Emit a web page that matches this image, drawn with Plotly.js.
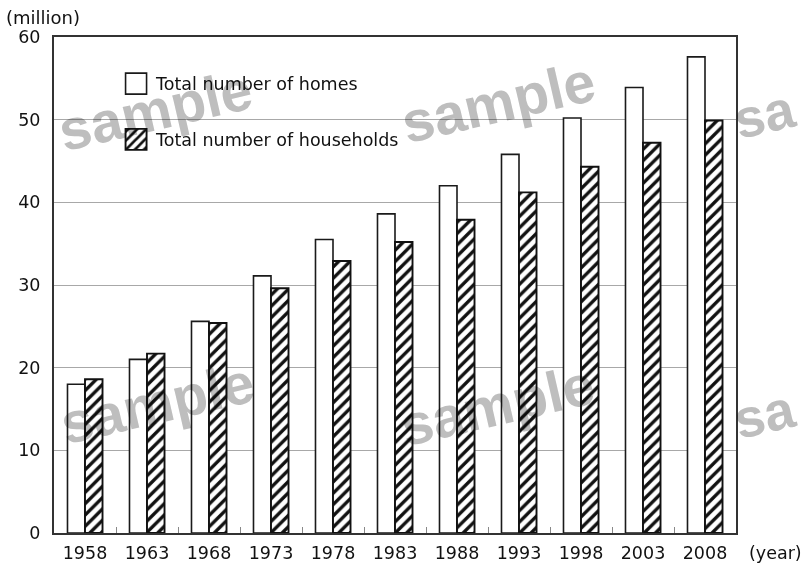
<!DOCTYPE html>
<html>
<head>
<meta charset="utf-8">
<script src="https://cdn.plot.ly/plotly-3.0.1.min.js"></script>
<style>html,body{margin:0;padding:0;background:#fff;}#chart{width:801px;height:567px;}</style>
</head>
<body>
<div id="chart"></div>
<script>
const years = ["1958","1963","1968","1973","1978","1983","1988","1993","1998","2003","2008"];
const homes = [18.0, 21.0, 25.6, 31.1, 35.5, 38.6, 42.0, 45.8, 50.2, 53.9, 57.6];
const households = [18.6, 21.7, 25.4, 29.6, 32.9, 35.2, 37.9, 41.2, 44.3, 47.2, 49.9];
const seriesNames = ["Total number of homes", "Total number of households"];
const yTicks = [0, 10, 20, 30, 40, 50, 60];

const FONT = "DejaVu Sans, Liberation Sans, Arial, sans-serif";

const traces = [
  {
    type: "bar", x: years, y: homes, name: seriesNames[0], legendgroup: "a",
    marker: {color: "#ffffff", line: {color: "#1a1a1a", width: 1.6}}
  },
  {
    type: "bar", x: years, y: households, name: seriesNames[1], legendgroup: "b",
    marker: {color: "#ffffff", line: {color: "#111111", width: 1.9},
             pattern: {shape: "/", fgcolor: "#111111", bgcolor: "#ffffff", size: 8, solidity: 0.42}}
  }
];

function wm(txt, px, py, anchor, size) {
  return {
    text: txt, xref: "paper", yref: "paper",
    x: (px - 54) / 682, y: (532.5 - py) / 495.5,
    xanchor: anchor || "center", yanchor: "middle", showarrow: false, textangle: -13,
    font: {family: "Liberation Sans, Arial, sans-serif", size: size || 57, color: "#bebebe", weight: "bold"}
  };
}

const layout = {
  width: 801, height: 567,
  margin: {l: 54, r: 65, t: 37, b: 34},
  paper_bgcolor: "#ffffff", plot_bgcolor: "#ffffff",
  font: {family: FONT, size: 17.5, color: "#111111"},
  barmode: "group", bargap: 0.435, bargroupgap: 0,
  showlegend: true,
  legend: {
    x: 0.091, y: 0.942, xanchor: "left", yanchor: "top",
    bgcolor: "rgba(0,0,0,0)", borderwidth: 0,
    font: {family: FONT, size: 17.5, color: "#111111"},
    tracegroupgap: 30, traceorder: "grouped"
  },
  xaxis: {
    type: "category", range: [-0.5, 10.5], fixedrange: true,
    showline: true, linecolor: "#333333", linewidth: 2, mirror: true,
    ticks: "inside", tickson: "boundaries", ticklen: 6, tickcolor: "#888888", tickwidth: 1,
    showgrid: false, ticklabelstandoff: 3,
    tickfont: {family: FONT, size: 17.5, color: "#111111"}
  },
  yaxis: {
    range: [0, 60], tickvals: yTicks, ticktext: yTicks.map(String), fixedrange: true,
    showline: true, linecolor: "#333333", linewidth: 2, mirror: true,
    ticks: "", showgrid: true, gridcolor: "#a8a8a8", gridwidth: 1,
    zeroline: false, ticklabelstandoff: 8,
    tickfont: {family: FONT, size: 17.5, color: "#111111"}
  },
  annotations: [
    wm("sample", 155, 110), wm("sample", 498, 102), wm("sa", 803, 114, "right", 54),
    wm("sample", 157, 403), wm("sample", 497, 405), wm("sa", 803, 414, "right", 54),
    {text: "(million)", xref: "paper", yref: "paper", x: (4 - 54) / 682, y: (532.5 - 18) / 495.5,
     xanchor: "left", yanchor: "middle", showarrow: false,
     font: {family: FONT, size: 18, color: "#111111"}},
    {text: "(year)", xref: "paper", yref: "paper", x: (747 - 54) / 682, y: (532.5 - 552) / 495.5,
     xanchor: "left", yanchor: "middle", showarrow: false,
     font: {family: FONT, size: 17.5, color: "#111111"}}
  ]
};

Plotly.newPlot("chart", traces, layout, {displayModeBar: false, staticPlot: true}).then(function () {
  // watermark blends like ink: visible on white, hidden under black
  document.querySelectorAll("g.annotation").forEach(function (g) {
    const idx = parseInt(g.getAttribute("data-index"), 10);
    if (idx < 6) g.style.mixBlendMode = "multiply";
  });
  // enlarge legend boxes
  document.querySelectorAll(".legend .legendpoints path").forEach(function (p) {
    p.setAttribute("d", "M10.5,10.5H-10.5V-10.5H10.5Z");
  });
});
</script>
</body>
</html>
